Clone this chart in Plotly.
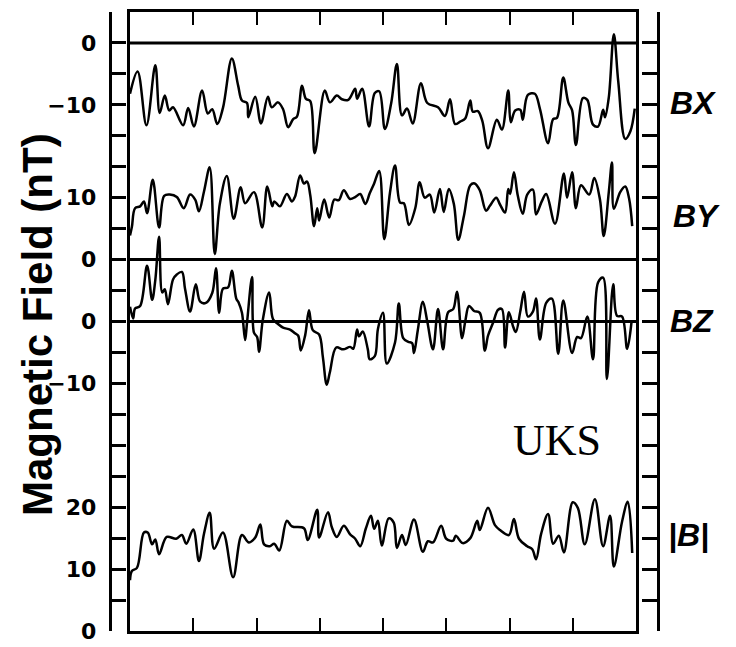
import plotly.graph_objects as go

W, H = 736, 647

# Time axis: 8 equal intervals marked by ticks along top and bottom
t_ticks = [1, 2, 3, 4, 5, 6, 7]

# BX component (nT)
bx_t = [0, 0.12, 0.26, 0.40, 0.47, 0.55, 0.62, 0.68, 0.84, 0.92,
        1.01, 1.14, 1.23, 1.30, 1.38, 1.47, 1.61, 1.71, 1.77, 1.85,
        1.87, 1.98, 2.07, 2.18, 2.24, 2.34, 2.42, 2.50, 2.58, 2.64,
        2.72, 2.78, 2.85, 2.92, 3.08, 3.16, 3.27, 3.35, 3.45, 3.56,
        3.59, 3.67, 3.78, 3.87, 3.94, 4.03, 4.13, 4.22, 4.30, 4.38,
        4.47, 4.60, 4.70, 4.87, 4.98, 5.06, 5.14, 5.22, 5.30, 5.38,
        5.42, 5.50, 5.57, 5.66, 5.80, 5.88, 5.98, 6.02, 6.09, 6.17,
        6.21, 6.29, 6.40, 6.48, 6.61, 6.69, 6.75, 6.85, 6.93, 6.99,
        7.05, 7.16, 7.23, 7.32, 7.40, 7.48, 7.51, 7.57, 7.65, 7.72,
        7.83, 7.91, 7.98]
bx_nt = [-8.2, -4.6, -13.3, -3.6, -11.3, -8.5, -10.9, -10.4, -13.3, -10.5,
         -13.5, -7.7, -11.4, -10.7, -13.1, -10.5, -2.5, -6.9, -9.3, -9.7,
         -12.0, -8.7, -13.0, -8.7, -10.4, -9.6, -10.7, -13.6, -12.3, -11.9,
         -6.9, -9.0, -9.4, -17.8, -7.7, -9.6, -8.5, -9.1, -9.2, -7.4,
         -9.0, -7.4, -13.5, -8.1, -7.8, -13.9, -9.7, -3.4, -11.7, -10.6,
         -13.0, -6.5, -9.7, -10.4, -11.8, -9.1, -13.1, -12.7, -12.2, -9.3,
         -11.1, -11.0, -12.6, -17.0, -12.4, -14.0, -7.7, -12.8, -10.9, -10.8,
         -12.4, -8.4, -8.2, -10.6, -16.2, -12.3, -12.1, -5.6, -9.6, -10.9,
         -16.5, -8.9, -9.2, -13.2, -13.5, -10.8, -12.0, -8.8, 1.4, -6.3,
         -15.5, -14.3, -10.6]

# BY component (nT)
by_t = [0, 0.03, 0.08, 0.16, 0.22, 0.27, 0.36, 0.46, 0.54, 0.63,
        0.74, 0.85, 0.95, 1.03, 1.09, 1.17, 1.26, 1.34, 1.42, 1.53,
        1.64, 1.75, 1.82, 1.96, 2.09, 2.17, 2.25, 2.28, 2.37, 2.48,
        2.56, 2.61, 2.69, 2.75, 2.80, 2.85, 2.91, 2.96, 2.99, 3.07,
        3.15, 3.23, 3.30, 3.38, 3.48, 3.56, 3.64, 3.72, 3.79, 3.86,
        3.94, 4.02, 4.11, 4.19, 4.27, 4.33, 4.41, 4.51, 4.58, 4.66,
        4.74, 4.81, 4.90, 4.96, 5.04, 5.12, 5.19, 5.28, 5.38, 5.45,
        5.53, 5.63, 5.69, 5.79, 5.85, 5.93, 5.98, 6.01, 6.07, 6.13,
        6.21, 6.28, 6.37, 6.42, 6.51, 6.58, 6.72, 6.86, 6.91, 6.99,
        7.05, 7.13, 7.26, 7.34, 7.43, 7.49, 7.57, 7.62, 7.65, 7.75,
        7.83, 7.89, 7.94]
by_nt = [3.9, 5.3, 8.3, 8.6, 9.4, 7.5, 12.9, 5.2, 10.3, 10.5,
         10.1, 8.3, 10.5, 9.7, 7.8, 11.0, 14.9, 0.9, 9.0, 13.5,
         6.6, 11.7, 9.1, 10.9, 5.2, 11.8, 8.6, 9.4, 8.6, 10.6,
         9.4, 10.2, 13.6, 12.3, 12.6, 10.4, 5.4, 8.3, 6.3, 9.7,
         6.8, 9.7, 9.6, 11.2, 9.8, 10.1, 10.6, 9.0, 10.7, 12.3,
         14.3, 3.3, 10.8, 15.2, 9.2, 9.1, 5.6, 8.3, 12.5, 10.0,
         10.5, 7.6, 11.4, 7.7, 11.4, 9.0, 3.2, 7.1, 12.0, 12.3,
         11.2, 7.9, 8.7, 10.0, 8.9, 7.6, 11.4, 10.6, 14.1, 10.4,
         7.4, 10.5, 11.3, 7.3, 9.4, 10.6, 5.8, 13.9, 10.0, 14.1,
         8.3, 12.0, 10.5, 13.2, 9.7, 3.8, 10.9, 15.7, 8.2, 10.9,
         11.8, 9.9, 5.4]

# BZ component (nT)
bz_t = [0, 0.05, 0.08, 0.16, 0.27, 0.35, 0.40, 0.46, 0.51, 0.55,
        0.60, 0.68, 0.74, 0.82, 0.87, 0.95, 1.04, 1.11, 1.20, 1.30,
        1.36, 1.41, 1.47, 1.55, 1.61, 1.68, 1.72, 1.77, 1.82, 1.85,
        1.93, 1.96, 2.01, 2.04, 2.10, 2.20, 2.26, 2.34, 2.42, 2.53,
        2.61, 2.66, 2.70, 2.77, 2.83, 2.89, 2.99, 3.05, 3.11, 3.16,
        3.26, 3.37, 3.48, 3.53, 3.59, 3.62, 3.68, 3.76, 3.79, 3.87,
        3.92, 4.00, 4.06, 4.19, 4.25, 4.32, 4.40, 4.46, 4.49, 4.55,
        4.63, 4.70, 4.79, 4.87, 4.95, 5.03, 5.11, 5.17, 5.25, 5.30,
        5.36, 5.44, 5.53, 5.61, 5.66, 5.74, 5.82, 5.88, 5.93, 5.99,
        6.06, 6.10, 6.17, 6.23, 6.29, 6.37, 6.42, 6.48, 6.58, 6.67,
        6.77, 6.85, 6.99, 7.07, 7.13, 7.23, 7.32, 7.40, 7.48, 7.54,
        7.64, 7.70, 7.78, 7.86, 7.93]
bz_nt = [2.4, 0.5, 2.1, 2.5, 9.0, 3.5, 6.7, 13.7, 4.7, 5.2,
         2.8, 6.8, 7.6, 8.0, 5.3, 1.6, 6.0, 3.2, 3.0, 4.6,
         8.6, 1.4, 5.3, 5.5, 8.2, 3.7, 3.0, 1.4, -3.0, -0.2,
         7.2, -1.8, -2.5, -4.9, 0.3, 4.7, 0.4, -0.4, -1.0, -1.3,
         -1.9, -2.3, -4.7, -2.2, 1.8, -1.4, -2.1, -5.8, -10.2, -8.2,
         -4.2, -4.5, -4.1, -4.4, -1.3, -2.4, -1.6, -4.5, -6.1, -5.6,
         -1.2, 1.4, -6.8, -3.4, 2.9, -2.7, -3.3, -3.5, -5.1, -1.4,
         3.2, 0.0, -4.5, 2.0, -4.5, 1.5, 2.0, 4.8, -2.7, 0.0,
         2.5, 1.7, 1.4, -4.7, -2.3, -0.2, 1.9, 2.0, -4.2, 1.5,
         -0.9, -1.7, 1.6, 4.8, 0.8, 1.6, 3.7, -2.9, 3.0, 3.7,
         -5.2, 3.4, -5.1, -2.5, -2.7, 0.8, -6.1, 6.3, 7.1, -9.3,
         6.0, 0.9, 0.8, -4.4, 0.0]

# Field magnitude |B| (nT)
bm_t = [0, 0.03, 0.11, 0.22, 0.28, 0.35, 0.40, 0.46, 0.58, 0.73,
        0.82, 0.89, 1.00, 1.09, 1.17, 1.26, 1.33, 1.47, 1.63, 1.77,
        1.88, 1.98, 2.06, 2.12, 2.21, 2.28, 2.36, 2.48, 2.56, 2.75,
        2.81, 2.96, 2.99, 3.13, 3.19, 3.27, 3.38, 3.48, 3.56, 3.64,
        3.73, 3.81, 3.86, 3.92, 3.98, 4.09, 4.17, 4.22, 4.30, 4.36,
        4.49, 4.63, 4.71, 4.79, 4.92, 5.00, 5.11, 5.15, 5.26, 5.38,
        5.49, 5.53, 5.66, 5.77, 5.85, 5.99, 6.07, 6.15, 6.28, 6.36,
        6.42, 6.50, 6.61, 6.69, 6.78, 6.86, 7.00, 7.08, 7.19, 7.35,
        7.48, 7.59, 7.65, 7.78, 7.87, 7.94]
bm_nt = [8.2, 9.7, 10.2, 15.9, 15.9, 14.0, 14.8, 12.4, 15.2, 14.9,
         15.5, 14.1, 16.4, 11.3, 15.7, 19.1, 13.3, 15.9, 8.7, 15.5,
         14.3, 15.1, 17.2, 14.0, 13.7, 14.1, 13.0, 17.8, 16.9, 16.6,
         14.7, 19.6, 15.1, 19.2, 16.8, 15.2, 17.0, 15.6, 14.9, 13.7,
         16.6, 18.6, 16.5, 17.8, 13.8, 18.2, 17.5, 13.4, 15.5, 13.9,
         18.0, 12.8, 14.5, 14.3, 17.0, 14.9, 14.6, 15.4, 14.2, 15.0,
         17.8, 16.3, 19.9, 17.1, 16.3, 15.5, 18.1, 14.9, 13.7, 13.2,
         11.6, 15.7, 18.9, 14.1, 15.4, 12.7, 20.8, 19.9, 14.0, 21.3,
         13.7, 18.6, 10.4, 17.7, 20.9, 12.6]

# Vertical stacking offsets of each panel on the common axis
offset_bx, offset_by, offset_bz, offset_bm = 95, 60, 50, 0

# Left-axis tick labels, one per 5 nT step of the stacked axis
stack_ticks = list(range(0, 101, 5))
tick_labels = {0: "0", 10: "10", 20: "20", 40: "\u221210", 50: "0",
               60: "0", 70: "10", 85: "\u221210", 95: "0"}

fig = go.Figure()

line_style = dict(color="black", width=2.5, shape="spline", smoothing=1.0)
for t, v, off in [(bx_t, bx_nt, offset_bx), (by_t, by_nt, offset_by),
                  (bz_t, bz_nt, offset_bz), (bm_t, bm_nt, offset_bm)]:
    fig.add_trace(go.Scatter(x=t, y=[val + off for val in v], mode="lines",
                             line=line_style, hoverinfo="skip",
                             showlegend=False))

# Zero reference lines for BX, BY, BZ
for off in (offset_bx, offset_by, offset_bz):
    fig.add_trace(go.Scatter(x=[0, 8], y=[off, off], mode="lines",
                             line=dict(color="black", width=3),
                             yaxis="y2", hoverinfo="skip", showlegend=False))
fig.add_trace(go.Scatter(x=[None], y=[None], yaxis="y3", mode="lines",
                         hoverinfo="skip", showlegend=False))

x0, x1 = 130, 636
ytop, ybot = 12, 631
ydom = [1 - ybot / H, 1 - ytop / H]

fig.update_layout(
    width=W, height=H,
    autosize=False,
    margin=dict(l=0, r=0, t=0, b=0, pad=0, autoexpand=False),
    paper_bgcolor="white", plot_bgcolor="white",
    showlegend=False,
    xaxis=dict(domain=[x0 / W, x1 / W], range=[0, 8], showgrid=False,
               zeroline=False, showline=True, linecolor="black",
               linewidth=2.5, mirror="ticks", ticks="inside",
               tickvals=t_ticks, ticklen=13, tickwidth=2,
               tickcolor="black", showticklabels=False, automargin=False),
    yaxis=dict(domain=ydom, range=[0, 100], showgrid=False, zeroline=False,
               showline=True, linecolor="black", linewidth=2.5,
               mirror=True, ticks="", showticklabels=False, automargin=False),
    yaxis2=dict(overlaying="y", anchor="free", position=109.5 / W,
                side="left", range=[0, 100], showgrid=False, zeroline=False,
                showline=True, linecolor="black", linewidth=2.5,
                ticks="inside", ticklen=15, tickwidth=3, tickcolor="black",
                tickvals=stack_ticks,
                ticktext=[tick_labels.get(v, "") for v in stack_ticks],
                ticklabelstandoff=8, ticklabeloverflow="allow",
                automargin=False,
                tickfont=dict(family="DejaVu Sans", size=22, color="black",
                              weight="bold")),
    yaxis3=dict(overlaying="y", anchor="free", position=657.5 / W,
                side="right", range=[0, 100], showgrid=False, zeroline=False,
                showline=True, linecolor="black", linewidth=2.5,
                ticks="inside", ticklen=15, tickwidth=3, tickcolor="black",
                tickvals=stack_ticks, showticklabels=False, automargin=False),
)

def label(text, px, py, size, family, weight="normal", style="normal",
          angle=0):
    fig.add_annotation(text=text, x=px / W, y=1 - py / H, xref="paper",
                       yref="paper", xanchor="center", yanchor="middle",
                       showarrow=False, textangle=angle,
                       font=dict(family=family, size=size, color="black",
                                 weight=weight, style=style))

label("Magnetic Field (nT)", 37, 325, 42, "Liberation Sans", weight="bold",
      angle=-90)
label("BX", 693, 103, 32, "Liberation Sans", "bold", "italic")
label("BY", 696, 216, 32, "Liberation Sans", "bold", "italic")
label("BZ", 692, 321, 32, "Liberation Sans", "bold", "italic")
label("|B|", 688, 535, 32, "Liberation Sans", "bold", "italic")
label("UKS", 557, 440, 44, "Liberation Serif")

fig.write_html("out.html")
